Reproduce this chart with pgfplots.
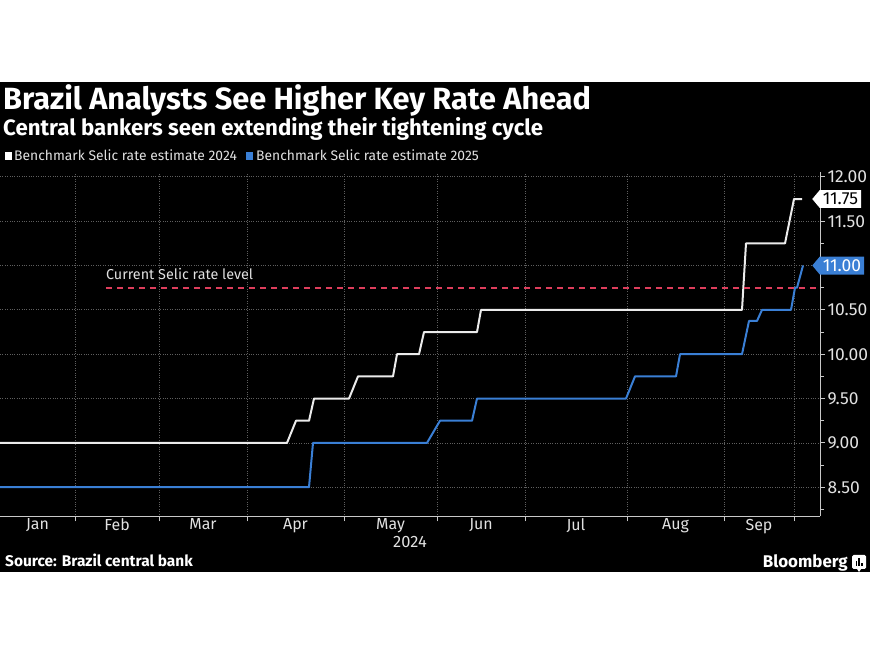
\documentclass[border=0pt]{standalone}
\usepackage{fontspec}
\setmainfont{Fira Sans}
\usepackage{pgfplots}
\pgfplotsset{compat=1.18}
\usetikzlibrary{shapes.symbols}
\definecolor{bblue}{RGB}{58,127,213}
\definecolor{bred}{RGB}{222,62,92}
\definecolor{axisgray}{RGB}{200,200,200}
\definecolor{gridgray}{RGB}{95,95,95}
\definecolor{labgray}{RGB}{225,225,225}
\newcommand{\fs}[1]{\fontsize{#1}{#1}\selectfont}
\begin{document}
\begin{tikzpicture}[x=1bp,y=1bp]
\useasboundingbox (0,0) rectangle (870,653);
\fill[white] (0,0) rectangle (870,653);
\fill[black] (0,81) rectangle (870,571);

% titles
\node[anchor=base west, text=white, font=\bfseries\fs{30.8}, inner sep=0] at (3,543) {Brazil Analysts See Higher Key Rate Ahead};
\node[anchor=base west, text=white, font=\bfseries\fs{22.3}, inner sep=0] at (3,517) {Central bankers seen extending their tightening cycle};

% legend
\fill[white] (5,493) rectangle (12,501);
\node[anchor=base west, text=labgray, font=\fs{13.9}, inner sep=0] at (14,492) {Benchmark Selic rate estimate 2024};
\fill[bblue] (246,493) rectangle (253,501);
\node[anchor=base west, text=labgray, font=\fs{13.9}, inner sep=0] at (256,492) {Benchmark Selic rate estimate 2025};

\begin{axis}[
  at={(0,154)}, anchor=south west,
  scale only axis, width=820bp, height=344bp,
  xmin=0, xmax=820, ymin=8.171, ymax=12.05,
  clip=false,
  axis x line*=bottom, axis y line*=right,
  axis line style={-, draw=axisgray, line width=1bp},
  tick style={draw=axisgray, line width=1bp},
  tick align=outside,
  major tick length=5bp, minor tick length=4bp,
  xtick={75,159,247,344,437,525,627,724,794},
  xticklabels={},
  extra x ticks={37.5,117,203,295.5,390.5,481,576,675.5,759},
  extra x tick labels={Jan,Feb,Mar,Apr,May,Jun,Jul,Aug,Sep},
  extra x tick style={major tick length=0pt, grid=none},
  x tick label style={font=\fs{16}, text=labgray, yshift=1bp},
  ytick={8.5,9,...,12},
  yticklabels={8.50,9.00,9.50,10.00,10.50,{},11.50,12.00},
  minor ytick={8.25,8.75,...,11.75},
  y tick label style={font=\fs{17.5}, text=labgray, xshift=-1bp},
  grid=major,
  major grid style={dotted, draw=gridgray, line width=0.8bp},
]
% 2024 estimate
\addplot[white!92!black, line width=2bp, line join=round] coordinates {
  (0,9.0) (287,9.0) (296,9.25) (309,9.25) (314,9.5) (349,9.5) (358,9.75)
  (393,9.75) (397,10.0) (419,10.0) (424,10.25) (477,10.25) (481,10.5)
  (742,10.5) (746,11.25) (785,11.25) (794,11.75) (802,11.75)
};
% 2025 estimate
\addplot[bblue, line width=2bp, line join=round] coordinates {
  (0,8.5) (309,8.5) (313,9.0) (427,9.0) (440,9.25) (472,9.25) (477,9.5)
  (626,9.5) (635,9.75) (676,9.75) (680,10.0) (742,10.0) (749,10.375)
  (757,10.375) (762,10.5) (791,10.5) (795,10.75) (797,10.75) (803,11.0)
};
% current Selic level
\addplot[bred, line width=2bp, dash pattern=on 6bp off 5bp] coordinates {(106,10.75) (820,10.75)};
\node[anchor=base west, text=labgray, font=\fs{14.4}, inner sep=0] at (axis cs:106,10.84) {Current Selic rate level};

% end-value tags
\node[signal, signal to=west, signal pointer angle=100, fill=white, text=black, font=\fs{17.5},
  inner xsep=3bp, inner ysep=3bp, anchor=west] at (axis cs:812,11.75) {11.75};
\node[signal, signal to=west, signal pointer angle=100, fill=bblue, text=white, font=\fs{17.5},
  inner xsep=3bp, inner ysep=3bp, anchor=west] at (axis cs:812,11.0) {11.00};
\end{axis}

\node[anchor=center, text=labgray, font=\fs{16.5}, inner sep=0] at (410,111) {2024};

% footer
\node[anchor=base west, text=white, font=\bfseries\fs{15.5}, inner sep=0] at (5,86) {Source: Brazil central bank};
\node[anchor=base east, text=white, font=\bfseries\fs{17}, inner sep=0] at (848,85) {Bloomberg};
\fill[white, rounded corners=1.5bp] (852,84) rectangle (866,98);
\fill[white] (857,84) -- (861,84) -- (859,81) -- cycle;
\fill[black] (855.5,87) rectangle (857,92);
\fill[black] (858.3,87) rectangle (859.8,95);
\fill[black] (861.1,87) rectangle (862.6,90);
\end{tikzpicture}
\end{document}
